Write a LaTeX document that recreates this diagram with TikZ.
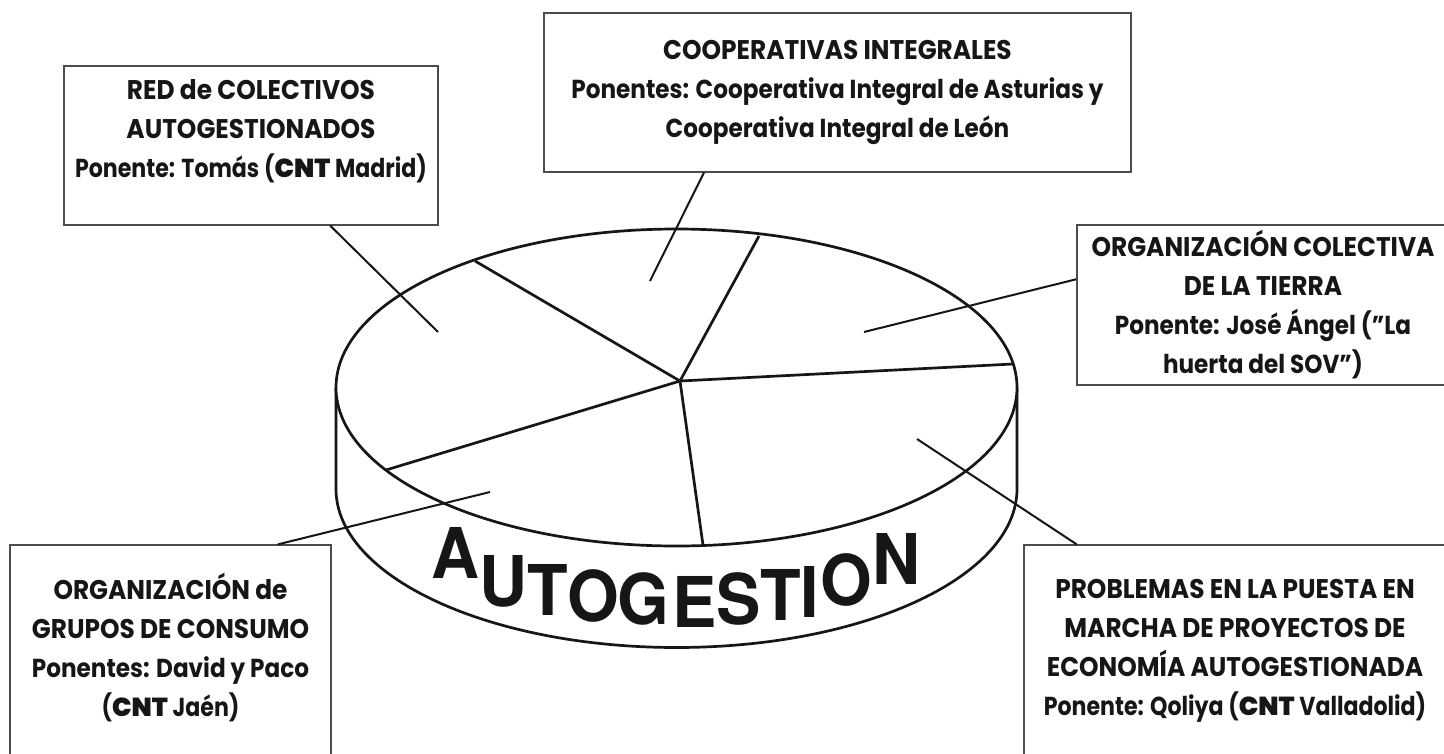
\documentclass[tikz,border=0pt]{standalone}
\usepackage{fontspec}
\usetikzlibrary{calc}
\setmainfont{Poppins}[BoldFont=Poppins Bold,FakeStretch=0.89]
\newfontfamily\capsfont[BoldFont=Poppins Bold,FakeStretch=0.92]{Poppins}
\newfontfamily\cntlinefont[BoldFont=Poppins Bold,FakeStretch=0.85]{Poppins}
\newfontfamily\titlefont[FakeStretch=0.95]{TeX Gyre Heros}
\newfontfamily\heavyfont[FakeStretch=1.0]{Poppins Black}
\newcommand{\cnt}{{\heavyfont\mdseries CNT}}
\newcommand{\capl}{\fontsize{27}{39}\selectfont\capsfont\bfseries}
\newcommand{\cntl}{\cntlinefont\bfseries}
\definecolor{ink}{HTML}{161616}
\tikzset{
  infobox/.style={draw=black!70,line width=1.2pt,fill=white,align=center,inner sep=0pt,text=ink,
    font=\fontsize{26}{39}\selectfont\bfseries},
  disc/.style={draw=ink,line width=2.7pt,line join=round},
  spoke/.style={draw=ink,line width=2.7pt},
  leader/.style={draw=ink,line width=2pt},
  bigletter/.style={inner sep=0pt,text=ink,font=\fontsize{70}{70}\selectfont\titlefont\bfseries}
}
\begin{document}
\begin{tikzpicture}[x=1pt,y=-1pt]
\useasboundingbox (0,0) rectangle (1444,753);
\clip (0,0) rectangle (1444,753);
\fill[white] (0,0) rectangle (1444,753);
% disc
\path[disc,fill=white] (336,387.5) -- (336,489) arc[start angle=180,end angle=360,x radius=340.5pt,y radius=158.5pt] -- (1017,387.5);
\path[disc,fill=white] (676.5,387.5) ellipse[x radius=340.5pt,y radius=158.5pt];
\coordinate (hub) at (680,381);
\coordinate (r1) at (475,261);
\coordinate (r2) at (759,236);
\coordinate (r3) at (1013,364);
\coordinate (r4) at (703,545);
\coordinate (r5) at (386,470);
\foreach \r in {r1,r2,r3,r4,r5} \draw[spoke] (hub) -- (\r);
% boxes
\node[infobox,minimum width=374pt,minimum height=159pt] (b1) at (251,145.5) {{\capl RED de COLECTIVOS}\\{\capl AUTOGESTIONADOS}\\{\cntl Ponente: Tomás (\cnt{} Madrid)}\\[-6pt]\mbox{}};
\node[infobox,minimum width=587pt,minimum height=159pt] (b2) at (837.5,92.5) {{\capl COOPERATIVAS INTEGRALES}\\Ponentes: Cooperativa Integral de Asturias y\\Cooperativa Integral de León};
\node[infobox,minimum width=372pt,minimum height=160pt] (b3) at (1263,305) {{\capl ORGANIZACIÓN COLECTIVA}\\{\capl DE LA TIERRA}\\Ponente: José Ángel ("La\\huerta del SOV")\\[-33pt]\mbox{}};
\node[infobox,minimum width=321pt,minimum height=277pt] (b4) at (170.5,683.5) {{\capl ORGANIZACIÓN de}\\{\capl GRUPOS DE CONSUMO}\\Ponentes: David y Paco\\{\cntl(\cnt{} Jaén)}\\\mbox{}\\\mbox{}};
\node[infobox,minimum width=422pt,minimum height=283pt] (b5) at (1235,686.5) {{\capl PROBLEMAS EN LA PUESTA EN}\\{\capl MARCHA DE PROYECTOS DE}\\{\capl ECONOMÍA AUTOGESTIONADA}\\{\cntl Ponente: Qoliya (\cnt{} Valladolid)}\\\mbox{}\\\mbox{}};
% leaders
\coordinate (p1) at (438,332);
\coordinate (p2) at (650,281);
\coordinate (p3) at (864,332);
\coordinate (p4) at (490,492);
\coordinate (p5) at (917,439);
\draw[leader] ($(b1.south west)!0.711!(b1.south east)$) -- (p1);
\draw[leader] ($(b2.south west)!0.273!(b2.south east)$) -- (p2);
\draw[leader] ($(b3.north west)!0.34!(b3.south west)$) -- (p3);
\draw[leader] ($(b4.north west)!0.833!(b4.north east)$) -- (p4);
\draw[leader] ($(b5.north west)!0.126!(b5.north east)$) -- (p5);
% title
\node[bigletter] (l1) at (456,552.5) {A};
\node[bigletter] (l2) at (504,581) {U};
\node[bigletter] (l3) at (548,590) {T};
\node[bigletter] (l4) at (593,596) {O};
\node[bigletter] (l5) at (643,598.5) {G};
\node[bigletter] (l6) at (694.5,602) {E};
\node[bigletter] (l7) at (738.5,599) {S};
\node[bigletter] (l8) at (781,595) {T};
\node[bigletter] (l9) at (810,592) {I};
\node[bigletter] (l10) at (846,579.5) {O};
\node[bigletter] (l11) at (896,559) {N};
\end{tikzpicture}
\end{document}
